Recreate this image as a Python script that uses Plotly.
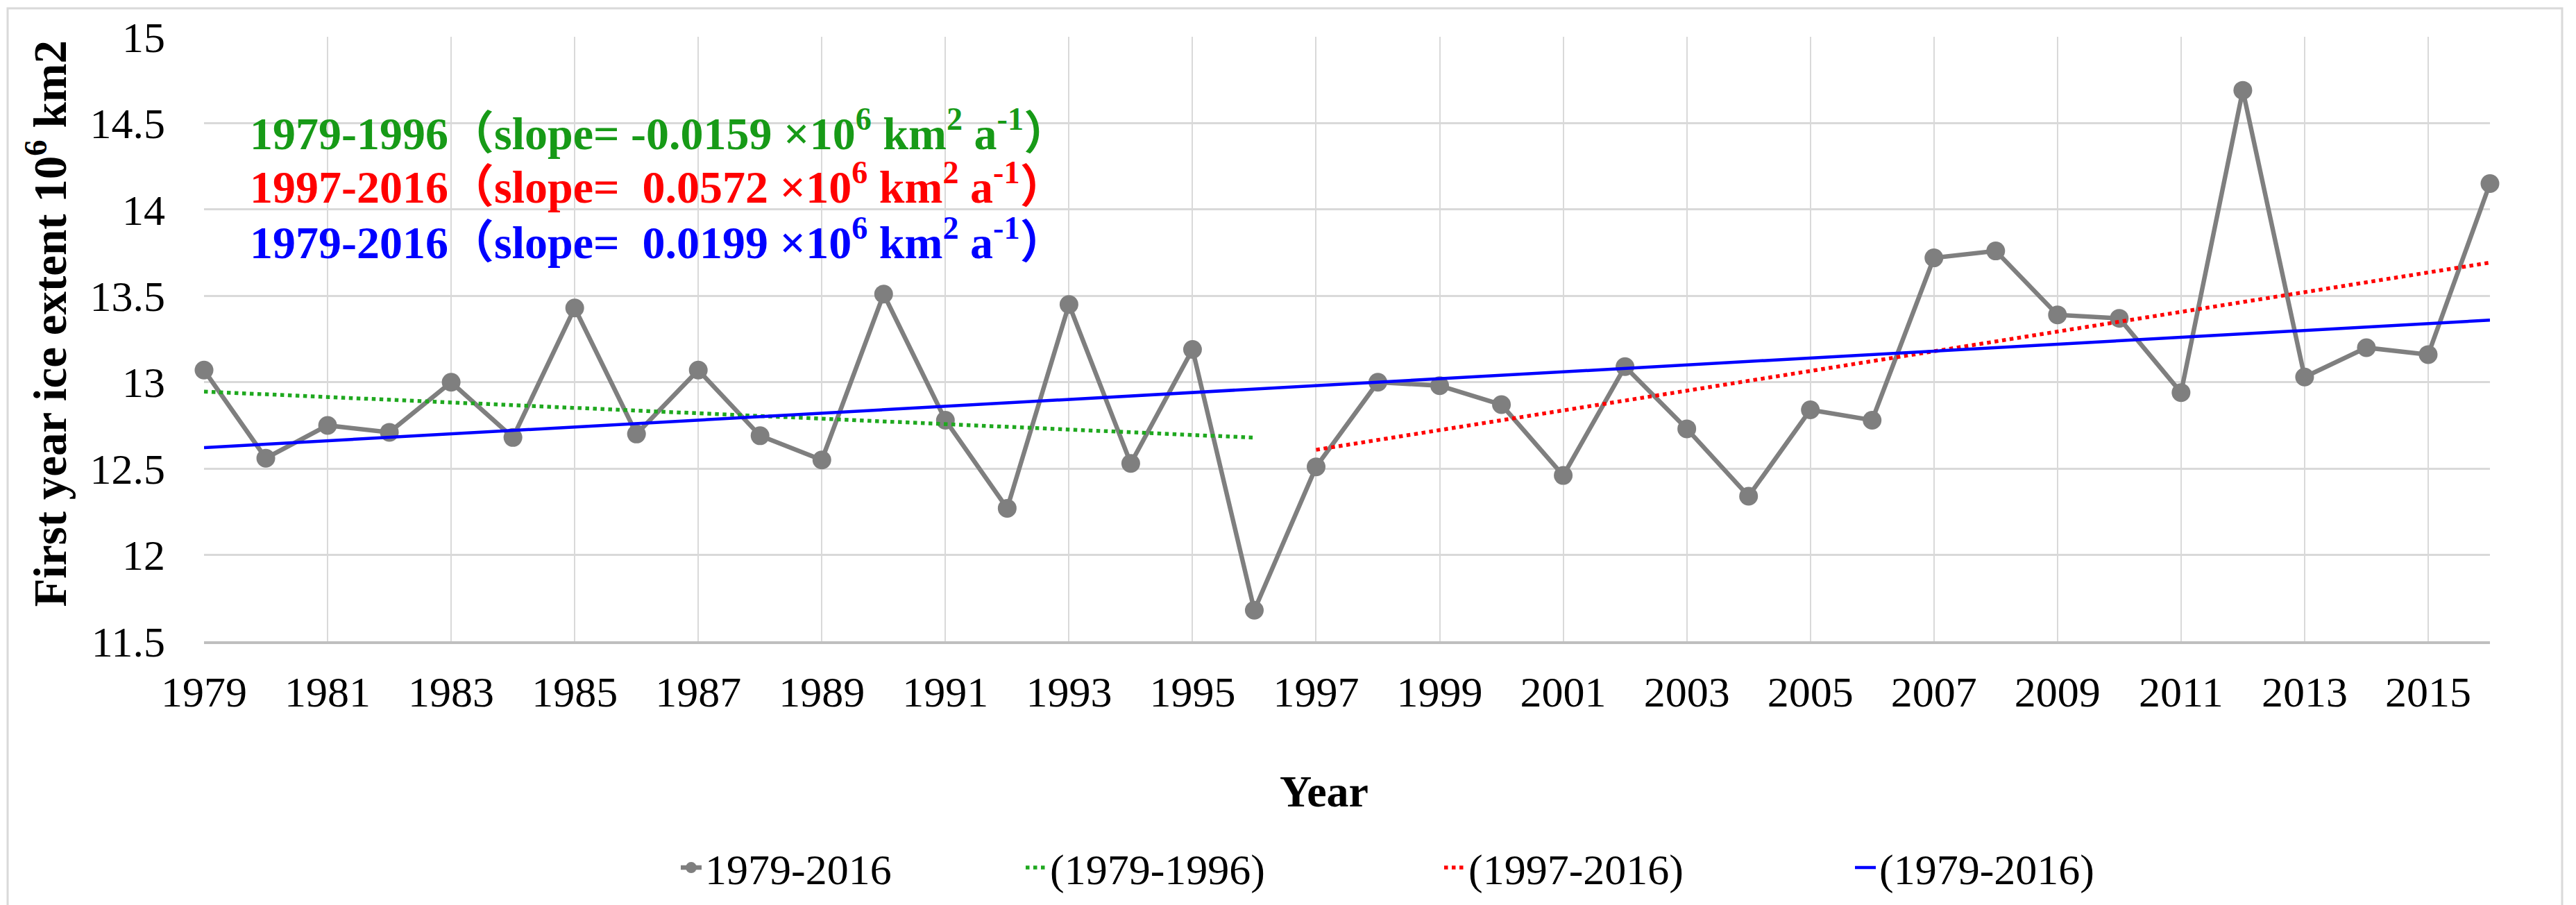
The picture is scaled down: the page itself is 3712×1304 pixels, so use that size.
import numpy as np
import plotly.graph_objects as go

years = list(range(1979, 2017))
extent = [13.07, 12.56, 12.75, 12.71, 13.00, 12.68, 13.43, 12.70, 13.07, 12.69,
          12.55, 13.51, 12.78, 12.27, 13.45, 12.53, 13.19, 11.68, 12.51, 13.00,
          12.98, 12.87, 12.46, 13.09, 12.73, 12.34, 12.84, 12.78, 13.72, 13.76,
          13.39, 13.37, 12.94, 14.69, 13.03, 13.20, 13.16, 14.15]

periods = [("(1979-1996)", 1979, 1996), ("(1997-2016)", 1997, 2016), ("(1979-2016)", 1979, 2016)]
trend_colors = ["#1fa81f", "#ff0000", "#0000ff"]
trend_dash = ["dot", "dot", "solid"]
slope_texts = [
    "1979-1996（slope= -0.0159 ×10<sup>6</sup> km<sup>2</sup> a<sup>-1</sup>）",
    "1997-2016（slope=  0.0572 ×10<sup>6</sup> km<sup>2</sup> a<sup>-1</sup>）",
    "1979-2016（slope=  0.0199 ×10<sup>6</sup> km<sup>2</sup> a<sup>-1</sup>）",
]
text_colors = ["#179a17", "#ff0000", "#0000ff"]
text_y = [14.46, 14.15, 13.83]

FONT = "Liberation Serif, Times New Roman, Noto Sans CJK SC, serif"
FS = 62

# legend text start positions (px) for each of the four entries
legend_text_px = [1030, 1527, 2130, 2722]
legend_ids = ["legend", "legend2", "legend3", "legend4"]

fig = go.Figure()
fig.add_trace(go.Scatter(
    x=years, y=extent, mode="lines+markers", name="1979-2016",
    line=dict(color="#7f7f7f", width=6.5),
    marker=dict(color="#7f7f7f", size=27),
    cliponaxis=False, legend="legend",
))

yr = np.array(years)
ex = np.array(extent)
for i, ((name, a, b), col, dsh) in enumerate(zip(periods, trend_colors, trend_dash)):
    m = (yr >= a) & (yr <= b)
    k, c = np.polyfit(yr[m], ex[m], 1)
    xs = yr[m]
    fig.add_trace(go.Scatter(
        x=[xs[0], xs[-1]], y=[k * xs[0] + c, k * xs[-1] + c], mode="lines", name=name,
        line=dict(color=col, width=5.5 if dsh == "dot" else 4.5, dash=dsh),
        legend=legend_ids[i + 1],
    ))

for t, col, yv in zip(slope_texts, text_colors, text_y):
    fig.add_annotation(
        x=0.0194, xref="paper", y=yv, yref="y", text="<b>" + t + "</b>",
        showarrow=False, xanchor="left", yanchor="middle",
        font=dict(family=FONT, size=66, color=col),
    )

fig.add_annotation(
    x=-0.069, xref="paper", y=0.526, yref="paper",
    text="<b>First year ice extent 10<sup>6</sup> km2</b>", textangle=-90,
    showarrow=False, xanchor="center", yanchor="middle",
    font=dict(family=FONT, size=67, color="#000000"),
)
fig.add_annotation(
    x=0.49, xref="paper", y=-0.249, yref="paper", text="<b>Year</b>",
    showarrow=False, xanchor="center", yanchor="middle",
    font=dict(family=FONT, size=64, color="#000000"),
)

fig.add_shape(type="rect", xref="paper", yref="paper",
              x0=(3 - 286) / 3294, x1=(3684 - 286) / 3294,
              y0=(916 - 1301) / 873, y1=(916 - 2) / 873,
              line=dict(color="#d9d9d9", width=3), fillcolor="rgba(0,0,0,0)", layer="below")

legend_layouts = {}
for lid, tx in zip(legend_ids, legend_text_px):
    legend_layouts[lid] = dict(
        orientation="h", x=(tx - 62 - 286) / 3294, xanchor="left",
        y=-0.3746, yanchor="middle", font=dict(family=FONT, size=FS),
        bgcolor="rgba(0,0,0,0)", itemwidth=30,
    )

fig.update_layout(
    width=3712, height=1304,
    margin=dict(l=286, r=132, t=43, b=388),
    paper_bgcolor="white", plot_bgcolor="white",
    font=dict(family=FONT, size=FS, color="#000000"),
    showlegend=True,
    xaxis=dict(range=[1979, 2016], tick0=1979, dtick=2, showgrid=True,
               gridcolor="#d9d9d9", gridwidth=2, zeroline=False,
               showline=True, linecolor="#bfbfbf", linewidth=4,
               ticks="", ticklabelstandoff=16, tickfont=dict(family=FONT, size=FS)),
    yaxis=dict(range=[11.5, 15], dtick=0.5, showgrid=True, gridcolor="#d9d9d9",
               gridwidth=3, zeroline=False, showline=False, ticks="",
               ticklabelstandoff=55, tickfont=dict(family=FONT, size=FS)),
    **legend_layouts,
)

fig.write_html("out.html")
